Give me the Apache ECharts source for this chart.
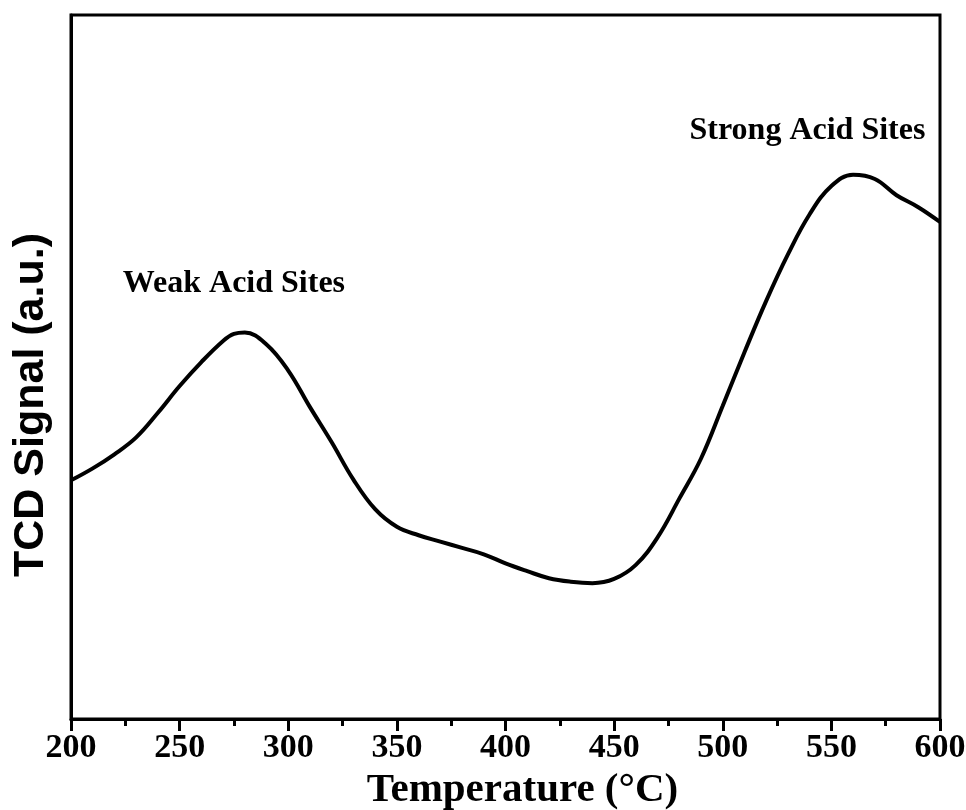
<!DOCTYPE html>
<html>
<head>
<meta charset="utf-8">
<script src="https://cdn.jsdelivr.net/npm/echarts@6/dist/echarts.min.js"></script>
<style>html,body{margin:0;padding:0;background:#fff}#c{width:966px;height:810px}</style>
</head>
<body>
<div id="c"></div>
<script>
const temperatures = [200,210,220,230,240,250,260,270,275,280,290,300,310,320,330,340,350,360,370,380,390,400,410,420,430,440,450,460,470,480,490,500,510,520,530,540,550,560,570,580,590,600];
const signal = [33.9,35.6,37.6,40.0,43.5,47.3,50.7,53.7,54.7,54.9,53.2,49.5,44.3,39.3,34.0,29.8,27.3,26.1,25.2,24.3,23.4,22.1,21.0,20.0,19.5,19.3,19.9,21.9,25.8,31.3,37.0,44.5,52.1,59.4,66.0,71.7,75.7,77.3,76.7,74.4,72.7,70.6];
const annotations = [
  {name: 'Weak Acid Sites', coord: [275, 61.8]},
  {name: 'Strong Acid Sites', coord: [539, 83.6]}
];
const xTitle = 'Temperature (°C)';
const yTitle = 'TCD Signal (a.u.)';

const chart = echarts.init(document.getElementById('c'), null, {renderer: 'canvas'});
const serif = '"Liberation Serif", "Times New Roman", serif';
chart.setOption({
  animation: false,
  backgroundColor: '#fff',
  grid: {left: 71, right: 26, top: 15, bottom: 91, containLabel: false, outerBoundsMode: 'none', show: true, borderColor: '#000', borderWidth: 3, backgroundColor: 'transparent'},
  xAxis: {
    type: 'value', min: 200, max: 600, interval: 50,
    name: xTitle, nameLocation: 'middle', nameGap: 50,
    nameTextStyle: {fontFamily: serif, fontWeight: 'bold', fontSize: 41, color: '#000', padding: [0, 0, 0, 34]},
    axisLine: {show: true, lineStyle: {color: '#000', width: 3}},
    axisTick: {show: true, inside: false, length: 12, lineStyle: {color: '#000', width: 3}},
    minorTick: {show: true, splitNumber: 2, length: 7, lineStyle: {color: '#000', width: 3}},
    axisLabel: {fontFamily: serif, fontWeight: 'bold', fontSize: 34, color: '#000', margin: 12},
    splitLine: {show: false}
  },
  yAxis: {
    type: 'value', min: 0, max: 100,
    name: yTitle, nameLocation: 'middle', nameGap: 18,
    nameTextStyle: {fontFamily: '"Liberation Sans", Arial, sans-serif', fontWeight: 'bold', fontSize: 43, color: '#000', padding: [0, 76, 0, 0]},
    axisLine: {show: true, lineStyle: {color: '#000', width: 3}},
    axisTick: {show: false},
    axisLabel: {show: false},
    splitLine: {show: false}
  },
  series: [{
    type: 'line',
    data: temperatures.map((t, i) => [t, signal[i]]),
    smooth: 0.4,
    showSymbol: false,
    lineStyle: {color: '#000', width: 4},
    markPoint: {
      symbol: 'circle', symbolSize: 0,
      label: {show: true, position: 'inside', formatter: p => p.name, fontFamily: serif, fontWeight: 'bold', fontSize: 32, color: '#000'},
      data: annotations.map(a => ({name: a.name, coord: a.coord}))
    }
  }]
});
</script>
</body>
</html>
